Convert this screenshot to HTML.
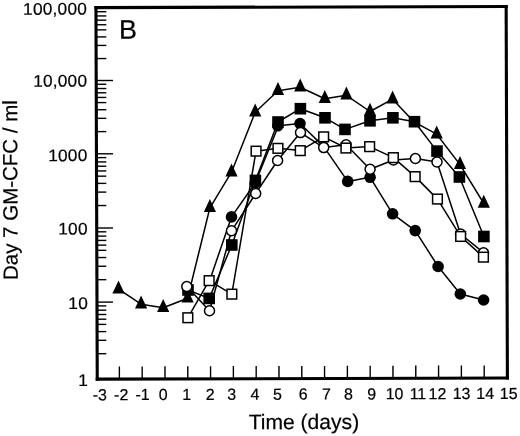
<!DOCTYPE html>
<html lang="en"><head><meta charset="utf-8"><title>Figure B</title>
<style>html,body{margin:0;padding:0;background:#fff;overflow:hidden}svg{display:block}text{font-family:"Liberation Sans", Arial, Helvetica, sans-serif;fill:#000}</style>
</head><body>
<svg width="520" height="436" viewBox="0 0 520 436">
<rect x="0" y="0" width="520" height="436" fill="#fff"/>
<g fill="none" stroke="#000" stroke-width="1.50" stroke-linejoin="round" stroke-linecap="round">
<polyline points="118.5,289.1 141.1,304.2 163.2,307.7 187.6,298.2 209.9,207.8 231.5,172.2 255.2,112.2 278.0,90.7 300.2,87.3 324.8,98.7 346.4,95.3 370.0,111.5 392.6,99.2 414.4,122.2 436.7,134.2 460.0,164.6 483.8,203.5"/>
<polyline points="188.0,290.0 209.2,298.4 231.8,245.0 255.4,180.4 278.0,122.0 300.4,108.7 325.0,117.8 345.0,129.4 370.0,120.8 392.9,117.8 414.5,121.7 437.0,151.1 459.4,177.0 483.9,236.5"/>
<polyline points="209.6,280.8 231.5,216.9 255.2,183.0 278.5,125.8 300.0,123.5 323.7,146.6 347.7,181.4 370.1,177.3 392.6,213.8 415.2,230.6 438.1,266.5 460.3,294.0 483.6,300.0"/>
<polyline points="186.8,286.6 209.5,310.8 231.5,230.8 255.7,193.5 277.6,160.5 300.5,132.6 323.7,147.6 346.1,144.8 370.1,169.2 393.4,160.0 415.4,158.5 437.0,161.9 460.5,234.0 483.5,252.7"/>
<polyline points="187.8,317.8 209.2,280.6 231.8,294.2 256.0,151.2 278.0,148.3 300.3,150.6 323.7,136.8 346.0,148.0 369.7,146.6 393.4,157.6 415.2,176.6 437.5,199.1 460.6,236.4 483.5,257.1"/>
</g>
<g fill="#000" stroke="none">
<polygon points="118.5,280.4 124.6,293.4 112.4,293.4"/>
<polygon points="141.1,295.5 147.2,308.5 135.0,308.5"/>
<polygon points="163.2,299.0 169.3,312.0 157.1,312.0"/>
<polygon points="187.6,289.5 193.7,302.5 181.5,302.5"/>
<polygon points="209.9,199.1 216.0,212.1 203.8,212.1"/>
<polygon points="231.5,163.5 237.6,176.5 225.4,176.5"/>
<polygon points="255.2,103.5 261.3,116.5 249.1,116.5"/>
<polygon points="278.0,82.0 284.1,95.0 271.9,95.0"/>
<polygon points="300.2,78.6 306.3,91.6 294.1,91.6"/>
<polygon points="324.8,90.0 330.9,103.0 318.7,103.0"/>
<polygon points="346.4,86.6 352.5,99.6 340.3,99.6"/>
<polygon points="370.0,102.8 376.1,115.8 363.9,115.8"/>
<polygon points="392.6,90.5 398.7,103.5 386.5,103.5"/>
<polygon points="436.7,125.5 442.8,138.5 430.6,138.5"/>
<polygon points="460.0,155.9 466.1,168.9 453.9,168.9"/>
<polygon points="483.8,194.8 489.9,207.8 477.7,207.8"/>
<rect x="182.2" y="284.2" width="11.6" height="11.6"/>
<rect x="203.4" y="292.6" width="11.6" height="11.6"/>
<rect x="226.0" y="239.2" width="11.6" height="11.6"/>
<rect x="249.6" y="174.6" width="11.6" height="11.6"/>
<rect x="272.2" y="116.2" width="11.6" height="11.6"/>
<rect x="294.6" y="102.9" width="11.6" height="11.6"/>
<rect x="319.2" y="112.0" width="11.6" height="11.6"/>
<rect x="339.2" y="123.6" width="11.6" height="11.6"/>
<rect x="364.2" y="115.0" width="11.6" height="11.6"/>
<rect x="387.1" y="112.0" width="11.6" height="11.6"/>
<rect x="408.7" y="115.9" width="11.6" height="11.6"/>
<rect x="431.2" y="145.3" width="11.6" height="11.6"/>
<rect x="453.6" y="171.2" width="11.6" height="11.6"/>
<rect x="478.1" y="230.7" width="11.6" height="11.6"/>
<circle cx="231.5" cy="216.9" r="5.8"/>
<circle cx="255.2" cy="183.0" r="5.8"/>
<circle cx="277.8" cy="125.8" r="5.8"/>
<circle cx="300.0" cy="123.5" r="5.8"/>
<circle cx="323.7" cy="146.6" r="5.3"/>
<circle cx="347.7" cy="181.4" r="5.8"/>
<circle cx="370.1" cy="177.3" r="5.8"/>
<circle cx="392.6" cy="213.8" r="5.8"/>
<circle cx="415.2" cy="230.6" r="5.8"/>
<circle cx="438.1" cy="266.5" r="5.8"/>
<circle cx="460.3" cy="294.0" r="5.8"/>
<circle cx="483.6" cy="300.0" r="5.8"/>
</g>
<g fill="#fff" stroke="#000" stroke-width="1.5">
<circle cx="186.8" cy="286.6" r="5.0"/>
<circle cx="209.5" cy="310.8" r="5.0"/>
<circle cx="231.5" cy="230.8" r="5.0"/>
<circle cx="255.7" cy="193.5" r="5.0"/>
<circle cx="277.6" cy="160.5" r="5.0"/>
<circle cx="300.5" cy="132.6" r="5.0"/>
<circle cx="323.7" cy="147.6" r="5.0"/>
<circle cx="346.1" cy="144.8" r="5.0"/>
<circle cx="370.1" cy="169.2" r="5.0"/>
<circle cx="393.4" cy="160.0" r="5.0"/>
<circle cx="415.4" cy="158.5" r="5.0"/>
<circle cx="437.0" cy="161.9" r="5.0"/>
<circle cx="460.5" cy="234.0" r="5.0"/>
<circle cx="483.5" cy="252.7" r="5.0"/>
<rect x="183.0" y="312.9" width="9.7" height="9.7"/>
<rect x="204.3" y="275.8" width="9.7" height="9.7"/>
<rect x="227.0" y="289.3" width="9.7" height="9.7"/>
<rect x="251.2" y="146.3" width="9.7" height="9.7"/>
<rect x="273.1" y="143.5" width="9.7" height="9.7"/>
<rect x="295.4" y="145.8" width="9.7" height="9.7"/>
<rect x="318.8" y="132.0" width="9.7" height="9.7"/>
<rect x="341.1" y="143.2" width="9.7" height="9.7"/>
<rect x="364.8" y="141.8" width="9.7" height="9.7"/>
<rect x="388.5" y="152.8" width="9.7" height="9.7"/>
<rect x="410.3" y="171.8" width="9.7" height="9.7"/>
<rect x="432.6" y="194.2" width="9.7" height="9.7"/>
<rect x="455.8" y="231.6" width="9.7" height="9.7"/>
<rect x="478.6" y="252.3" width="9.7" height="9.7"/>
</g>
<g stroke="#000" stroke-width="1.4" fill="none">
<line x1="97.0" y1="11.72" x2="106.3" y2="11.72"/>
<line x1="97.0" y1="15.94" x2="106.3" y2="15.94"/>
<line x1="97.0" y1="20.15" x2="106.3" y2="20.15"/>
<line x1="97.0" y1="24.75" x2="106.3" y2="24.75"/>
<line x1="97.0" y1="29.85" x2="106.3" y2="29.85"/>
<line x1="97.0" y1="36.90" x2="106.3" y2="36.90"/>
<line x1="97.0" y1="45.43" x2="106.3" y2="45.43"/>
<line x1="97.0" y1="58.55" x2="106.3" y2="58.55"/>
<line x1="97.0" y1="80.50" x2="113.0" y2="80.50"/>
<line x1="97.0" y1="84.26" x2="106.3" y2="84.26"/>
<line x1="97.0" y1="88.52" x2="106.3" y2="88.52"/>
<line x1="97.0" y1="92.78" x2="106.3" y2="92.78"/>
<line x1="97.0" y1="97.44" x2="106.3" y2="97.44"/>
<line x1="97.0" y1="102.59" x2="106.3" y2="102.59"/>
<line x1="97.0" y1="109.72" x2="106.3" y2="109.72"/>
<line x1="97.0" y1="118.34" x2="106.3" y2="118.34"/>
<line x1="97.0" y1="131.61" x2="106.3" y2="131.61"/>
<line x1="97.0" y1="153.80" x2="113.0" y2="153.80"/>
<line x1="97.0" y1="157.61" x2="106.3" y2="157.61"/>
<line x1="97.0" y1="161.92" x2="106.3" y2="161.92"/>
<line x1="97.0" y1="166.23" x2="106.3" y2="166.23"/>
<line x1="97.0" y1="170.95" x2="106.3" y2="170.95"/>
<line x1="97.0" y1="176.16" x2="106.3" y2="176.16"/>
<line x1="97.0" y1="183.38" x2="106.3" y2="183.38"/>
<line x1="97.0" y1="192.10" x2="106.3" y2="192.10"/>
<line x1="97.0" y1="205.54" x2="106.3" y2="205.54"/>
<line x1="97.0" y1="228.00" x2="113.0" y2="228.00"/>
<line x1="97.0" y1="231.81" x2="106.3" y2="231.81"/>
<line x1="97.0" y1="236.11" x2="106.3" y2="236.11"/>
<line x1="97.0" y1="240.42" x2="106.3" y2="240.42"/>
<line x1="97.0" y1="245.12" x2="106.3" y2="245.12"/>
<line x1="97.0" y1="250.33" x2="106.3" y2="250.33"/>
<line x1="97.0" y1="257.54" x2="106.3" y2="257.54"/>
<line x1="97.0" y1="266.25" x2="106.3" y2="266.25"/>
<line x1="97.0" y1="279.67" x2="106.3" y2="279.67"/>
<line x1="97.0" y1="302.10" x2="113.0" y2="302.10"/>
<line x1="97.0" y1="305.90" x2="106.3" y2="305.90"/>
<line x1="97.0" y1="310.20" x2="106.3" y2="310.20"/>
<line x1="97.0" y1="314.50" x2="106.3" y2="314.50"/>
<line x1="97.0" y1="319.20" x2="106.3" y2="319.20"/>
<line x1="97.0" y1="324.40" x2="106.3" y2="324.40"/>
<line x1="97.0" y1="331.60" x2="106.3" y2="331.60"/>
<line x1="97.0" y1="340.30" x2="106.3" y2="340.30"/>
<line x1="97.0" y1="353.70" x2="106.3" y2="353.70"/>
<line x1="119.40" y1="379.0" x2="119.37" y2="366.4"/>
<line x1="142.20" y1="379.0" x2="142.17" y2="366.4"/>
<line x1="165.00" y1="378.9" x2="164.97" y2="366.3"/>
<line x1="187.80" y1="378.8" x2="187.77" y2="366.2"/>
<line x1="210.60" y1="378.8" x2="210.57" y2="366.2"/>
<line x1="233.40" y1="378.7" x2="233.37" y2="366.1"/>
<line x1="256.20" y1="378.7" x2="256.17" y2="366.1"/>
<line x1="279.00" y1="378.6" x2="278.97" y2="366.0"/>
<line x1="301.80" y1="378.5" x2="301.77" y2="365.9"/>
<line x1="324.60" y1="378.5" x2="324.57" y2="365.9"/>
<line x1="347.40" y1="378.4" x2="347.37" y2="365.8"/>
<line x1="370.20" y1="378.3" x2="370.17" y2="365.7"/>
<line x1="393.00" y1="378.3" x2="392.97" y2="365.7"/>
<line x1="415.80" y1="378.2" x2="415.77" y2="365.6"/>
<line x1="438.60" y1="378.1" x2="438.57" y2="365.5"/>
<line x1="461.40" y1="378.1" x2="461.37" y2="365.5"/>
<line x1="484.20" y1="378.0" x2="484.17" y2="365.4"/>
</g>
<g stroke="#000" stroke-width="3.1" fill="none" stroke-linecap="square">
<line x1="95.95" y1="7.6" x2="97.25" y2="379.15"/>
<line x1="95.95" y1="7.6" x2="506.15" y2="6.5"/>
<line x1="506.15" y1="6.5" x2="507.4" y2="378.0"/>
<line x1="97.25" y1="379.15" x2="507.4" y2="378.0"/>
</g>
<g transform="rotate(-0.178 301 193)">
<g stroke="#000" stroke-width="0.2">
<text x="119.6" y="38.1" font-size="27">B</text>
<text transform="translate(87.6 13.8) scale(1.03 1)" font-size="16.8" letter-spacing="0.2" text-anchor="end">100,000</text>
<text transform="translate(87.6 85.8) scale(1.03 1)" font-size="16.8" letter-spacing="0.2" text-anchor="end">10,000</text>
<text transform="translate(87.6 160.4) scale(1.03 1)" font-size="16.8" letter-spacing="0.2" text-anchor="end">1000</text>
<text transform="translate(87.6 233.8) scale(1.03 1)" font-size="16.8" letter-spacing="0.2" text-anchor="end">100</text>
<text transform="translate(87.6 308.4) scale(1.03 1)" font-size="16.8" letter-spacing="0.2" text-anchor="end">10</text>
<text transform="translate(87.6 385.3) scale(1.03 1)" font-size="16.8" letter-spacing="0.2" text-anchor="end">1</text>
<text x="99.2" y="399.6" font-size="16" text-anchor="middle">-3</text>
<text x="120.6" y="399.6" font-size="16" text-anchor="middle">-2</text>
<text x="142.0" y="399.6" font-size="16" text-anchor="middle">-1</text>
<text x="162.6" y="399.6" font-size="16" text-anchor="middle">0</text>
<text x="186.1" y="399.6" font-size="16" text-anchor="middle">1</text>
<text x="209.5" y="399.6" font-size="16" text-anchor="middle">2</text>
<text x="231.1" y="399.6" font-size="16" text-anchor="middle">3</text>
<text x="254.4" y="399.6" font-size="16" text-anchor="middle">4</text>
<text x="276.8" y="399.6" font-size="16" text-anchor="middle">5</text>
<text x="302.6" y="399.6" font-size="16" text-anchor="middle">6</text>
<text x="325.7" y="399.6" font-size="16" text-anchor="middle">7</text>
<text x="347.9" y="399.6" font-size="16" text-anchor="middle">8</text>
<text x="371.1" y="399.6" font-size="16" text-anchor="middle">9</text>
<text x="393.9" y="399.6" font-size="16" text-anchor="middle">10</text>
<text x="417.3" y="399.6" font-size="16" text-anchor="middle">11</text>
<text x="436.8" y="399.6" font-size="16" text-anchor="middle">12</text>
<text x="460.9" y="399.6" font-size="16" text-anchor="middle">13</text>
<text x="484.5" y="399.6" font-size="16" text-anchor="middle">14</text>
<text x="508.0" y="399.6" font-size="16" text-anchor="middle">15</text>
<text x="303.2" y="429.1" font-size="21.1" text-anchor="middle">Time (days)</text>
<text transform="translate(17.4 189.2) rotate(-90)" font-size="20.5" text-anchor="middle">Day 7 GM-CFC / ml</text>
</g>
</g>
</svg></body></html>
